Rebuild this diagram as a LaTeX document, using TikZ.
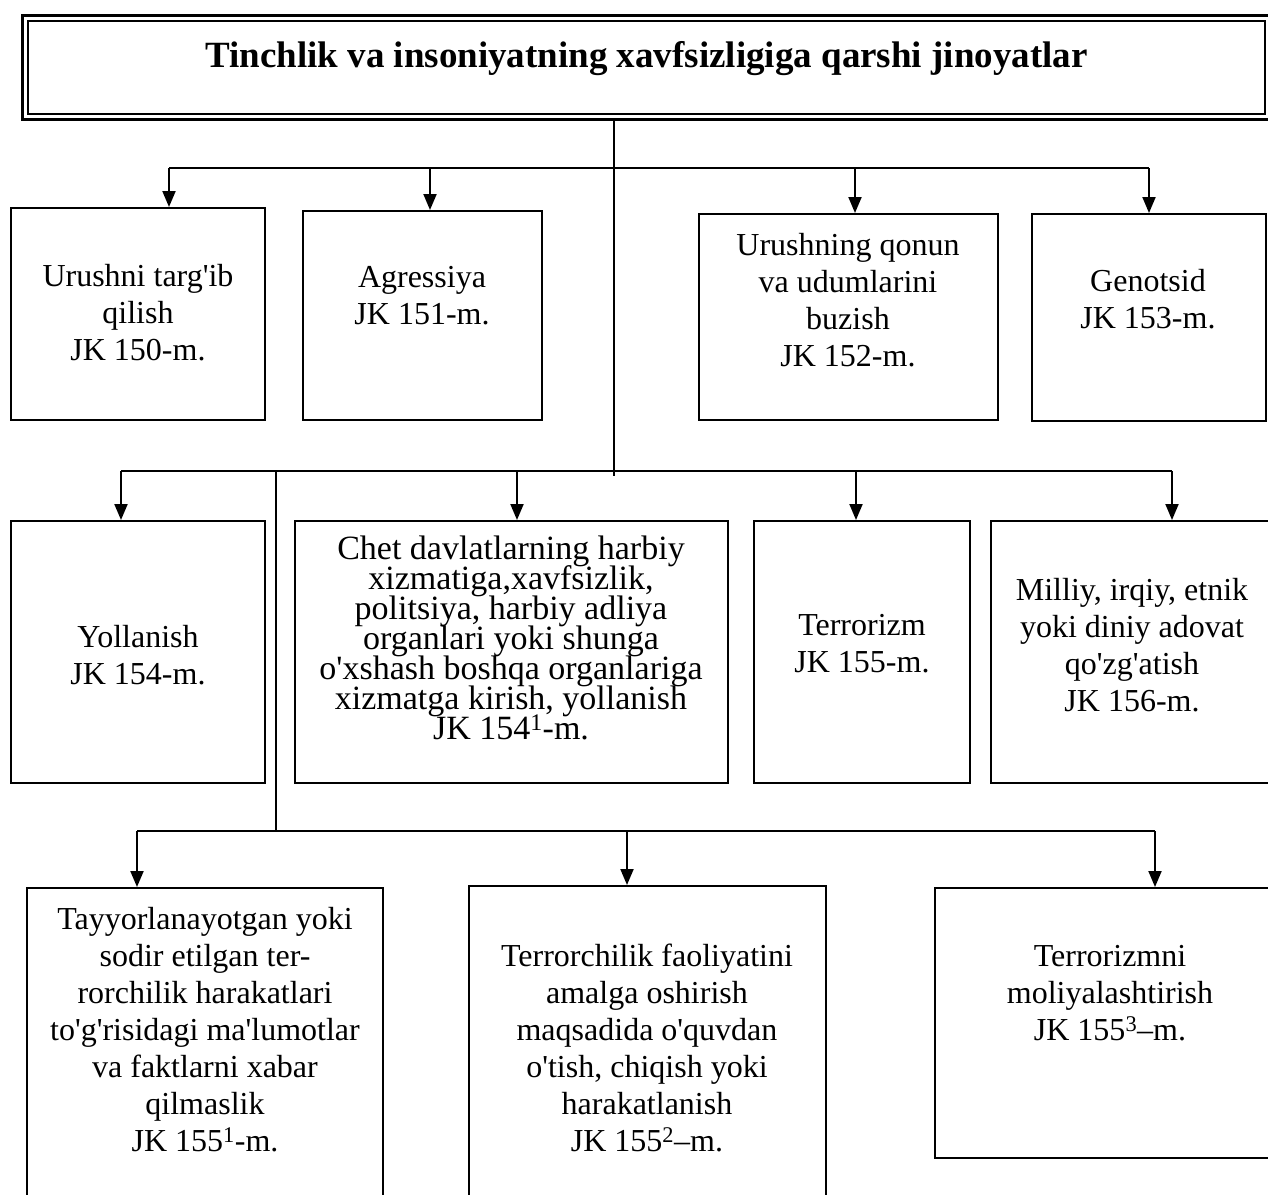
\documentclass[tikz,border=0pt]{standalone}
\usepackage{fontspec}
\setmainfont{Liberation Serif}[Ligatures=TeXOff]
\usetikzlibrary{arrows.meta}
\begin{document}
\begin{tikzpicture}
[x=1pt,y=-1pt,
  boxdecorate/.style={draw,line width=2pt,inner sep=0pt},
  textdecorate/.style={align=center,inner sep=0pt,font=\fontsize{32}{37}\selectfont},
  busdecorate/.style={line width=1.5pt},
  arrowdecorate/.style={-{Triangle[length=16pt,width=13pt]},line width=2pt}]
\useasboundingbox (0,0) rectangle (1268,1194);
\clip (0,0) rectangle (1268,1194);
% title
\node (title) at (646.5,67.25) [boxdecorate,minimum width=1237pt,minimum height=93.5pt,
  text height=25pt,text depth=25pt,font=\fontsize{37}{44}\selectfont\bfseries]
  {Tinchlik va insoniyatning xavfsizligiga qarshi jinoyatlar};
\draw[line width=3pt] ([xshift=-4.5pt,yshift=4.5pt]title.north west)
  rectangle ([xshift=4.5pt,yshift=-4.5pt]title.south east);
% nodes or vertices
\node (b150) at (138,314) [boxdecorate,minimum width=254pt,minimum height=212pt] {};
\node (b151) at (422.5,315.5) [boxdecorate,minimum width=239pt,minimum height=209pt] {};
\node (b152) at (848.5,317) [boxdecorate,minimum width=299pt,minimum height=206pt] {};
\node (b153) at (1149,317.5) [boxdecorate,minimum width=234pt,minimum height=207pt] {};
\node (b154) at (138,652) [boxdecorate,minimum width=254pt,minimum height=262pt] {};
\node (b1541) at (511.5,652) [boxdecorate,minimum width=433pt,minimum height=262pt] {};
\node (b155) at (862,652) [boxdecorate,minimum width=216pt,minimum height=262pt] {};
\node (b156) at (1140.5,652) [boxdecorate,minimum width=299pt,minimum height=262pt] {};
\node (b1551) at (205,1059) [boxdecorate,minimum width=356pt,minimum height=342pt] {};
\node (b1552) at (647.5,1058) [boxdecorate,minimum width=357pt,minimum height=344pt] {};
\node (b1553) at (1112.5,1023) [boxdecorate,minimum width=355pt,minimum height=270pt] {};
% texts
\node (t150) at (138,312.5) [textdecorate] {Urushni targ'ib\\qilish\\JK 150-m.};
\node (t151) at (422,295.5) [textdecorate] {Agressiya\\JK 151-m.};
\node (t152) at (848,300.5) [textdecorate] {Urushning qonun\\va udumlarini\\buzish\\JK 152-m.};
\node (t153) at (1148,299.5) [textdecorate] {Genotsid\\JK 153-m.};
\node (t154) at (138,655.5) [textdecorate] {Yollanish\\JK 154-m.};
\node (t1541) at (511,637.5) [textdecorate,font={\fontsize{34}{30}\selectfont\lineskiplimit=-50pt\relax}]
  {Chet davlatlarning harbiy\\xizmatiga,xavfsizlik,\\politsiya, harbiy adliya\\organlari yoki shunga\\o'xshash boshqa organlariga\\xizmatga kirish, yollanish\\JK 154\textsuperscript{1}-m.};
\node (t155) at (862,643.5) [textdecorate] {Terrorizm\\JK 155-m.};
\node (t156) at (1132,645.5) [textdecorate] {Milliy, irqiy, etnik\\yoki diniy adovat\\qo'zg'atish\\JK 156-m.};
\node (t1551) at (205,1029.5) [textdecorate] {Tayyorlanayotgan yoki\\sodir etilgan ter-\\rorchilik harakatlari\\to'g'risidagi ma'lumotlar\\va faktlarni xabar\\qilmaslik\\JK 155\textsuperscript{1}-m.};
\node (t1552) at (647,1047.5) [textdecorate] {Terrorchilik faoliyatini\\amalga oshirish\\maqsadida o'quvdan\\o'tish, chiqish yoki\\harakatlanish\\JK 155\textsuperscript{2}–m.};
\node (t1553) at (1110,993) [textdecorate] {Terrorizmni\\moliyalashtirish\\JK 155\textsuperscript{3}–m.};
% junctions
\coordinate (tr0) at (614,120);
\coordinate (tr1) at (614,476);
\coordinate (s150) at (169,168);
\coordinate (s151) at (430,168);
\coordinate (s152) at (855,168);
\coordinate (s153) at (1149,168);
\coordinate (s154) at (121,471);
\coordinate (s1541) at (517,471);
\coordinate (s155) at (856,471);
\coordinate (s156) at (1172,471);
\coordinate (k0) at (276,471);
\coordinate (k1) at (276,831);
\coordinate (s1551) at (137,831);
\coordinate (s1552) at (627,831);
\coordinate (s1553) at (1155,831);
% edges or lines
\draw[busdecorate] (tr0) -- (tr1);
\draw[busdecorate] (s150) -- (s153);
\draw[busdecorate] (s154) -- (s156);
\draw[busdecorate] (k0) -- (k1);
\draw[busdecorate] (s1551) -- (s1553);
\draw[arrowdecorate] (s150) -- (s150 |- b150.north);
\draw[arrowdecorate] (s151) -- (s151 |- b151.north);
\draw[arrowdecorate] (s152) -- (s152 |- b152.north);
\draw[arrowdecorate] (s153) -- (s153 |- b153.north);
\draw[arrowdecorate] (s154) -- (s154 |- b154.north);
\draw[arrowdecorate] (s1541) -- (s1541 |- b1541.north);
\draw[arrowdecorate] (s155) -- (s155 |- b155.north);
\draw[arrowdecorate] (s156) -- (s156 |- b156.north);
\draw[arrowdecorate] (s1551) -- (s1551 |- b1551.north);
\draw[arrowdecorate] (s1552) -- (s1552 |- b1552.north);
\draw[arrowdecorate] (s1553) -- (s1553 |- b1553.north);
\end{tikzpicture}
\end{document}
